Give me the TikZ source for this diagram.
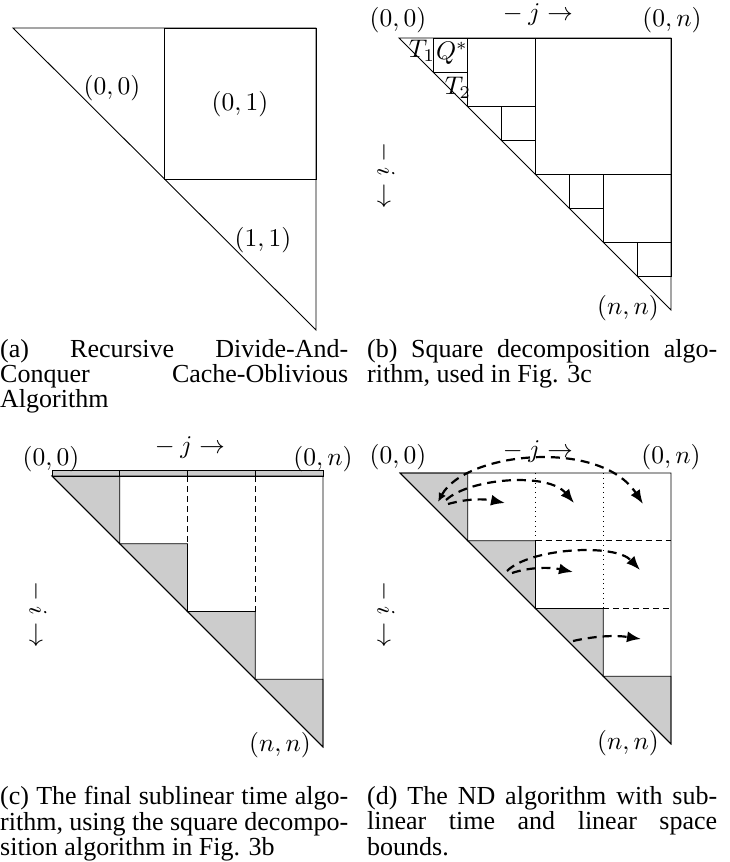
\documentclass[tikz,border=0pt]{standalone}
\usepackage[no-math]{fontspec}
\usepackage{graphicx}
\newfontfamily\capfont{Liberation Serif}
\newcommand\mylab[1]{\scalebox{2.55}{$#1$}}
\usetikzlibrary{arrows.meta}
\begin{document}
\begin{tikzpicture}[x=1pt,y=-1pt,
  ln/.style={line width=0.9pt, line join=miter},
  lbl/.style={inner sep=0pt},
  graytri/.style={ln, fill=gray!40, draw=black},
  dashline/.style={ln, dash pattern=on 6pt off 4pt},
  dotline/.style={ln, dash pattern=on 0.8pt off 4pt},
  flow/.style={line width=2.2pt, dash pattern=on 9pt off 6pt, -{Latex[length=14pt,width=11pt]}},
  flowboth/.style={line width=2.2pt, dash pattern=on 9pt off 6pt, {Latex[length=9pt,width=8pt]}-{Latex[length=14pt,width=11pt]}},
  captext/.style={anchor=north west, inner sep=0pt, align=left, font=\capfont\fontsize{26}{25}\selectfont}]
\useasboundingbox (0,0) rectangle (730,862);

% ---------------- (a)
\begin{scope}[shift={(13,28)}, x=303pt, y=-302pt]
  \draw[ln] (0,0) coordinate (a00) -- (1,0) coordinate (a0n) -- (1,1) coordinate (ann) -- cycle;
  \draw[ln] (1/2,0) rectangle (1,1/2);
\end{scope}
\node[lbl] (la00) at (112,88) {\mylab{(0,0)}};
\node[lbl] (la01) at (240,104) {\mylab{(0,1)}};
\node[lbl] (la11) at (263,240) {\mylab{(1,1)}};

% ---------------- (b)
\begin{scope}[shift={(399,38)}, x=272pt, y=-272pt]
  \draw[ln] (0,0) coordinate (b00) -- (1,0) coordinate (b0n) -- (1,1) coordinate (bnn) -- cycle;
  \draw[ln] (1/2,0) rectangle (1,1/2);
  \draw[ln] (1/4,0) rectangle (1/2,1/4);
  \draw[ln] (3/4,1/2) rectangle (1,3/4);
  \draw[ln] (1/8,0) rectangle (1/4,1/8);
  \draw[ln] (3/8,1/4) rectangle (1/2,3/8);
  \draw[ln] (5/8,1/2) rectangle (3/4,5/8);
  \draw[ln] (7/8,3/4) rectangle (1,7/8);
\end{scope}
\node[lbl] (lb00) at (398,20) {\mylab{(0,0)}};
\node[lbl] (lb0n) at (672,20) {\mylab{(0,n)}};
\node[lbl] (lbj) at (535,15) {\mylab{{}- j \rightarrow}};
\node[lbl] (lbnn) at (628,308) {\mylab{(n,n)}};
\node[lbl] (lbi) at (385,173) [rotate=-90] {\mylab{{}- i \rightarrow}};
\node[lbl] (lt1) at (422,51) {\mylab{T_1}};
\node[lbl] (lq) at (452,53) {\mylab{Q^*}};
\node[lbl] (lt2) at (458,88) {\mylab{T_2}};

% ---------------- (c)
\begin{scope}[shift={(52,476)}, x=271pt, y=-271pt]
  \foreach \k in {0,1,2,3}
    \draw[graytri] (\k/4,\k/4) -- ({(\k+1)/4},\k/4) -- ({(\k+1)/4},{(\k+1)/4}) -- cycle;
  \draw[line width=0.6pt, fill=gray!40] (0,-6/271) rectangle (1,0);
  \foreach \k in {1,2,3}
    \draw[line width=0.6pt] (\k/4,-6/271) -- (\k/4,0);
  \draw[ln] (0,0) coordinate (c00) -- (1,0) coordinate (c0n) -- (1,1) coordinate (cnn) -- cycle;
  \draw[dashline] (1/2,0) -- (1/2,1/4);
  \draw[dashline] (3/4,0) -- (3/4,1/2);
\end{scope}
\node[lbl] (lc00) at (51,459) {\mylab{(0,0)}};
\node[lbl] (lcj) at (187,448) {\mylab{{}- j \rightarrow}};
\node[lbl] (lc0n) at (323,459) {\mylab{(0,n)}};
\node[lbl] (lcnn) at (280,745) {\mylab{(n,n)}};
\node[lbl] (lci) at (37,612) [rotate=-90] {\mylab{{}- i \rightarrow}};

% ---------------- (d)
\begin{scope}[shift={(400,473)}, x=271pt, y=-271pt]
  \foreach \k in {0,1,2,3}
    \draw[graytri] (\k/4,\k/4) -- ({(\k+1)/4},\k/4) -- ({(\k+1)/4},{(\k+1)/4}) -- cycle;
  \draw[ln] (0,0) coordinate (d00) -- (1,0) coordinate (d0n) -- (1,1) coordinate (dnn) -- cycle;
  \draw[dotline] (1/2,0) -- (1/2,1/4);
  \draw[dotline] (3/4,0) -- (3/4,1/2);
  \draw[dashline] (1/2,1/4) -- (1,1/4);
  \draw[dashline] (3/4,1/2) -- (1,1/2);
\end{scope}
\node[lbl] (ld00) at (398,457) {\mylab{(0,0)}};
\node[lbl] (ldj) at (535,452) {\mylab{{}- j \rightarrow}};
\node[lbl] (ld0n) at (671,457) {\mylab{(0,n)}};
\node[lbl] (ldnn) at (628,743) {\mylab{(n,n)}};
\node[lbl] (ldi) at (385,612) [rotate=-90] {\mylab{{}- i \rightarrow}};

% arrows in (d)
\coordinate (s1) at (438,502);
\coordinate (s1b) at (446,500);
\coordinate (s1c) at (448,504);
\coordinate (t11) at (505,503);
\coordinate (t12) at (574,503);
\coordinate (t13) at (643,504);
\draw[flowboth] (s1) .. controls (465,452) and (600,438) .. (t13);
\draw[flow] (s1b) .. controls (470,478) and (548,472) .. (t12);
\draw[flow] (s1c) .. controls (470,498) and (485,499) .. (t11);

\coordinate (s2) at (507,571);
\coordinate (s2b) at (512,573);
\coordinate (t21) at (573,572);
\coordinate (t22) at (640,570);
\draw[flow] (s2) .. controls (530,548) and (615,543) .. (t22);
\draw[flow] (s2b) .. controls (530,567) and (550,567) .. (t21);

\coordinate (s3) at (573,641);
\coordinate (t31) at (641,639);
\draw[flow] (s3) .. controls (595,636) and (615,635) .. (t31);

% ---------------- captions
\node[captext] (capa) at (0,339) {\makebox[348pt][s]{(a) Recursive Divide-And-}\\\makebox[348pt][s]{Conquer Cache-Oblivious}\\Algorithm};
\node[captext] (capb) at (367,339) {\makebox[350pt][s]{(b) Square decomposition algo-}\\rithm, used in Fig. 3c};
\node[captext, font=\capfont\fontsize{26}{25.7}\selectfont] (capc) at (0,786) {\makebox[348pt][s]{(c) The final sublinear time algo-}\\\makebox[348pt][s]{rithm, using the square decompo-}\\sition algorithm in Fig. 3b};
\node[captext, font=\capfont\fontsize{26}{25.7}\selectfont] (capd) at (367,786) {\makebox[350pt][s]{(d) The ND algorithm with sub-}\\\makebox[350pt][s]{linear time and linear space}\\bounds.};
\end{tikzpicture}
\end{document}
